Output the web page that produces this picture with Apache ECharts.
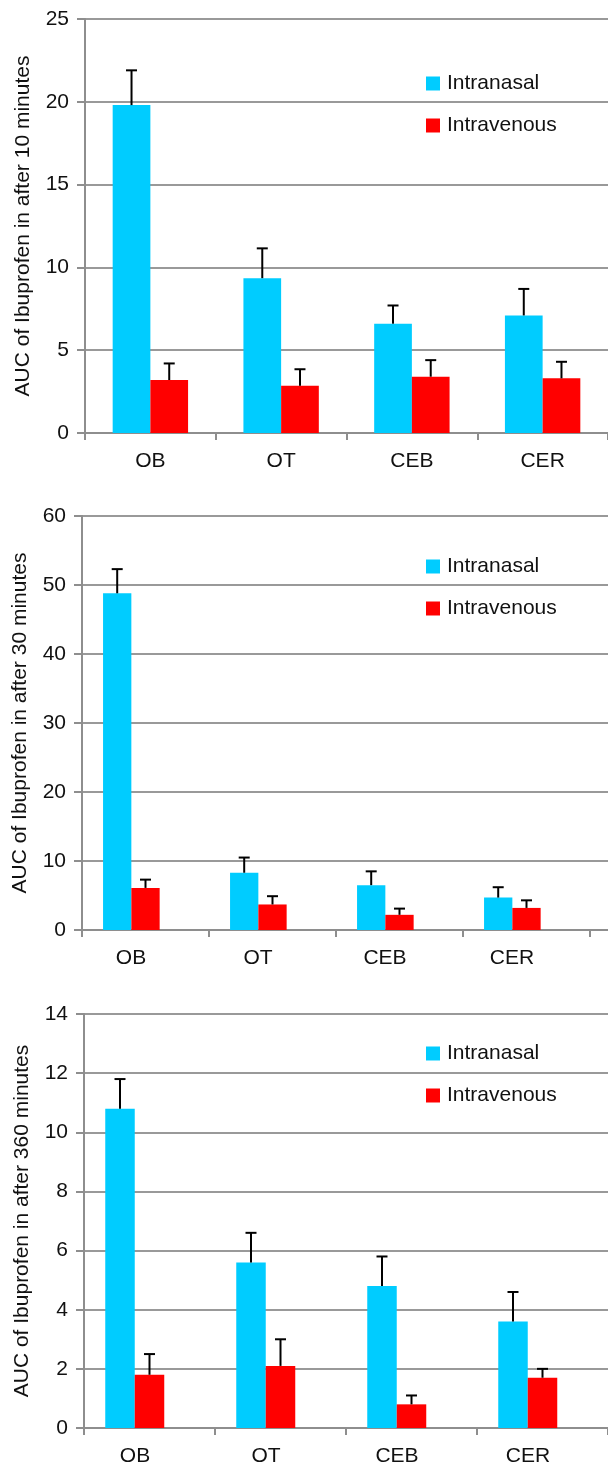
<!DOCTYPE html>
<html>
<head>
<meta charset="utf-8">
<script src="https://cdn.jsdelivr.net/npm/echarts@6/dist/echarts.min.js"></script>
<style>
  html, body { margin: 0; padding: 0; background: #fff; }
  #chart { width: 608px; height: 1468px; }
</style>
</head>
<body>
<div id="chart"></div>
<script>
const categories = ['OB', 'OT', 'CEB', 'CER'];
const seriesNames = ['Intranasal', 'Intravenous'];

// AUC after 10 minutes
const auc10Intranasal = [19.8, 9.35, 6.6, 7.1];
const auc10IntranasalSd = [2.1, 1.8, 1.1, 1.6];
const auc10Intravenous = [3.2, 2.85, 3.4, 3.3];
const auc10IntravenousSd = [1.0, 1.0, 1.0, 1.0];

// AUC after 30 minutes
const auc30Intranasal = [48.8, 8.3, 6.5, 4.7];
const auc30IntranasalSd = [3.5, 2.2, 2.0, 1.5];
const auc30Intravenous = [6.1, 3.7, 2.2, 3.2];
const auc30IntravenousSd = [1.2, 1.2, 0.9, 1.1];

// AUC after 360 minutes
const auc360Intranasal = [10.8, 5.6, 4.8, 3.6];
const auc360IntranasalSd = [1.0, 1.0, 1.0, 1.0];
const auc360Intravenous = [1.8, 2.1, 0.8, 1.7];
const auc360IntravenousSd = [0.7, 0.9, 0.3, 0.3];

const yMax = [25, 60, 14];
const yStep = [5, 10, 2];
const yTitles = [
  'AUC of Ibuprofen in after 10 minutes',
  'AUC of Ibuprofen in after 30 minutes',
  'AUC of Ibuprofen in after 360 minutes'
];

const colors = ['#00ccff', '#ff0000'];
const font = '"Liberation Sans", Arial, Helvetica, sans-serif';
const fontSize = 21;
const gray = '#8e8e8e';

// layout of each panel (slots = bar slots per category, 3rd one left empty in the source)
const panels = [
  { left: 85, top: 19, height: 414, width: 532, barWidth: 37.7, slots: 2, shift: 0, legendTop: 73,
    values: [auc10Intranasal, auc10Intravenous], sds: [auc10IntranasalSd, auc10IntravenousSd] },
  { left: 82, top: 516, height: 414, width: 508, barWidth: 28.3, slots: 3, shift: 14.5, legendTop: 556,
    values: [auc30Intranasal, auc30Intravenous], sds: [auc30IntranasalSd, auc30IntravenousSd] },
  { left: 84, top: 1014, height: 414, width: 532, barWidth: 29.5, slots: 3, shift: 14.5, legendTop: 1043,
    values: [auc360Intranasal, auc360Intravenous], sds: [auc360IntranasalSd, auc360IntravenousSd] }
];

function errorBarItem(offset) {
  return function (params, api) {
    const base = api.coord([api.value(0), api.value(1)]);
    const top = api.coord([api.value(0), api.value(2)]);
    const x = base[0] + offset;
    const style = { stroke: '#000', lineWidth: 2 };
    return {
      type: 'group',
      children: [
        { type: 'line', shape: { x1: x, y1: base[1], x2: x, y2: top[1] }, style: style },
        { type: 'line', shape: { x1: x - 5.5, y1: top[1], x2: x + 5.5, y2: top[1] }, style: style }
      ]
    };
  };
}

const grid = [];
const xAxis = [];
const yAxis = [];
const legend = [];
const series = [];

panels.forEach((p, i) => {
  const dataGrid = grid.length;
  grid.push({ left: p.left, top: p.top, height: p.height, width: p.width });
  // background grid so gridlines run to the right edge
  grid.push({ left: p.left, top: p.top, height: p.height, right: 0 });

  xAxis.push({
    type: 'category',
    gridIndex: dataGrid,
    data: categories,
    axisLine: { lineStyle: { color: gray, width: 2 } },
    axisTick: { show: true, interval: 0, length: 7, lineStyle: { color: gray, width: 2 } },
    axisLabel: {
      fontSize: fontSize, fontFamily: font, color: '#111', margin: 18,
      padding: [0, p.shift * 2, 0, 0]
    }
  });
  xAxis.push({
    type: 'value', gridIndex: dataGrid + 1, min: 0, max: 1,
    axisLine: { show: true, lineStyle: { color: gray, width: 2 } },
    axisTick: { show: false }, axisLabel: { show: false }, splitLine: { show: false }
  });

  yAxis.push({
    type: 'value',
    gridIndex: dataGrid,
    min: 0, max: yMax[i], interval: yStep[i],
    name: yTitles[i],
    nameLocation: 'middle',
    nameGap: 51,
    nameTextStyle: { fontSize: fontSize, fontFamily: font, color: '#111' },
    axisLine: { show: true, lineStyle: { color: gray, width: 2 } },
    axisTick: { show: true, length: 8, lineStyle: { color: gray, width: 2 } },
    axisLabel: { fontSize: fontSize, fontFamily: font, color: '#111', margin: 16 },
    splitLine: { show: false }
  });
  yAxis.push({
    type: 'value', gridIndex: dataGrid + 1, min: 0, max: yMax[i], interval: yStep[i],
    axisLine: { show: false }, axisTick: { show: false }, axisLabel: { show: false },
    splitLine: { show: true, lineStyle: { color: '#999', width: 2 } }
  });

  legend.push({
    data: seriesNames,
    orient: 'vertical',
    left: 426,
    top: p.legendTop,
    padding: 0,
    icon: 'rect',
    itemWidth: 14,
    itemHeight: 14,
    itemGap: 21,
    selectedMode: false,
    textStyle: { fontSize: fontSize, fontFamily: font, color: '#111', padding: [0, 0, 0, 2] }
  });

  seriesNames.forEach((name, k) => {
    series.push({
      name: name,
      type: 'bar',
      xAxisIndex: dataGrid,
      yAxisIndex: dataGrid,
      barWidth: p.barWidth,
      barGap: '0%',
      itemStyle: { color: colors[k] },
      data: p.values[k]
    });
  });
  if (p.slots === 3) {
    series.push({
      name: 'empty',
      type: 'bar',
      xAxisIndex: dataGrid,
      yAxisIndex: dataGrid,
      barWidth: p.barWidth,
      barGap: '0%',
      itemStyle: { color: 'rgba(0,0,0,0)' },
      data: categories.map(() => 0)
    });
  }

  seriesNames.forEach((name, k) => {
    const offset = (k - (p.slots - 1) / 2) * p.barWidth;
    series.push({
      type: 'custom',
      xAxisIndex: dataGrid,
      yAxisIndex: dataGrid,
      z: 5,
      renderItem: errorBarItem(offset),
      encode: { x: 0, y: [1, 2] },
      data: categories.map((c, j) => [j, p.values[k][j], p.values[k][j] + p.sds[k][j]])
    });
  });
});

const chart = echarts.init(document.getElementById('chart'));
chart.setOption({
  animation: false,
  grid: grid,
  xAxis: xAxis,
  yAxis: yAxis,
  legend: legend,
  series: series
});
</script>
</body>
</html>
